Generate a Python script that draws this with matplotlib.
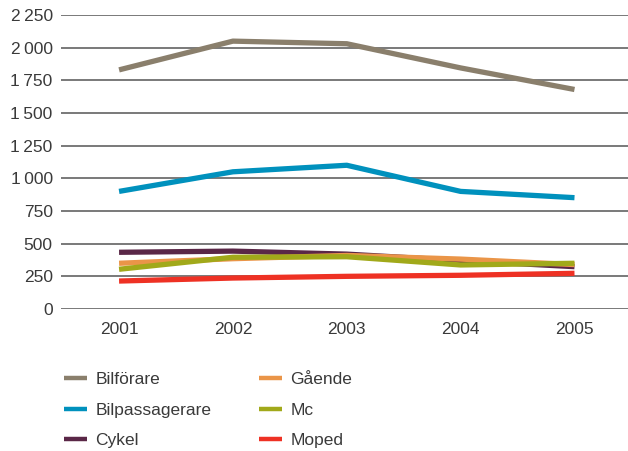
import matplotlib
matplotlib.use('Agg')
import matplotlib.pyplot as plt
from matplotlib.ticker import FuncFormatter

plt.rcParams['font.family'] = ['Liberation Sans', 'DejaVu Sans']

years = ['2001', '2002', '2003', '2004', '2005']
bilforare = [1830, 2050, 2030, 1845, 1680]
bilpassagerare = [900, 1050, 1100, 900, 852]
cykel = [434, 443, 420, 370, 324]
gaende = [350, 385, 410, 382, 340]
mc = [304, 396, 400, 337, 350]
moped = [214, 237, 250, 258, 273]

series = [
    ('Bilförare', bilforare, '#8a7f6c'),
    ('Bilpassagerare', bilpassagerare, '#0091bd'),
    ('Cykel', cykel, '#5a2747'),
    ('Gående', gaende, '#ea9548'),
    ('Mc', mc, '#a1a91a'),
    ('Moped', moped, '#ee3124'),
]

fig = plt.figure(figsize=(6.28, 4.51), dpi=100)
ax = fig.add_axes([61 / 628, 1 - 309 / 451, 567 / 628, 294 / 451])

x = list(range(len(years)))
for name, vals, col in series:
    ax.plot(x, vals, color=col, linewidth=3.8, label=name, solid_capstyle='butt')

ax.set_ylim(0, 2250)
ax.set_xlim(-0.51, 4.47)
ax.set_yticks(range(0, 2251, 250))
ax.yaxis.set_major_formatter(FuncFormatter(lambda v, p: f'{int(v):,}'.replace(',', '\u2009')))
ax.set_xticks(x)
ax.set_xticklabels(years)
ax.grid(axis='y', color='#555555', linewidth=1.1)
ax.set_axisbelow(True)
for s in ax.spines.values():
    s.set_visible(False)
ax.tick_params(length=0, labelsize=12.5, labelcolor='#3a3a3a')
ax.tick_params(axis='y', pad=6)
ax.tick_params(axis='x', pad=9)

handles, labels = ax.get_legend_handles_labels()
leg = fig.legend(handles, labels, ncol=2, loc='upper left',
                 bbox_to_anchor=(52 / 628, 1 - 360 / 451), frameon=False,
                 fontsize=12.5, handlelength=1.3, handletextpad=0.5,
                 columnspacing=2.75, labelspacing=0.88, borderaxespad=0.3)
for t in leg.get_texts():
    t.set_color('#3a3a3a')
for h in leg.legend_handles:
    h.set_linewidth(3.2)

fig.savefig('out.png', dpi=100)
